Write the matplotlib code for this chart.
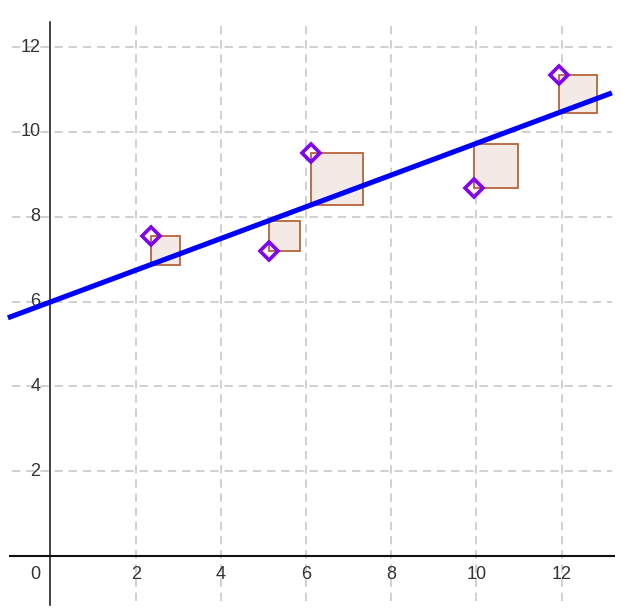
import numpy as np
import matplotlib.pyplot as plt
import matplotlib.patches as mpatches

# data
pts_x = [2.36, 5.13, 6.11, 9.94, 11.94]
pts_y = [7.55, 7.19, 9.50, 8.68, 11.34]
slope = 0.374
intercept = 5.99
x_ticks = [2, 4, 6, 8, 10, 12]
y_ticks = [2, 4, 6, 8, 10, 12]

# drawing window
X0, X1 = -0.90, 13.18
Y0, Y1 = -1.06, 12.58

plt.rcParams['font.family'] = ['Liberation Sans', 'DejaVu Sans']
fig = plt.figure(figsize=(6.23, 6.08), dpi=100)
ax = fig.add_axes([0, 0, 1, 1])
ax.set_xlim(-1.185, 13.44)
ax.set_ylim(-1.226, 13.11)
ax.axis('off')

# dashed grid
grid_kw = dict(color='#c8c8c8', lw=1.2, linestyles=(0, (5, 3.5)), zorder=1)
ax.vlines(x_ticks, Y0, Y1, **grid_kw)
ax.hlines(y_ticks, X0, X1, **grid_kw)

# axes through origin
ax.plot([X0 - 0.05, X1 + 0.05], [0, 0], color='#111111', lw=1.5, zorder=2)
ax.plot([0, 0], [Y0 - 0.1, Y1], color='#111111', lw=1.1, zorder=2)

# tick labels
for t in x_ticks:
    ax.text(t, -0.43, str(t), ha='center', va='center', fontsize=13, color='#333333')
for t in y_ticks:
    ax.text(-0.24, t, str(t), ha='right', va='center', fontsize=13, color='#333333')
ax.text(-0.36, -0.43, '0', ha='center', va='center', fontsize=13, color='#333333')

# diamond fill under squares
ax.plot(pts_x, pts_y, 'D', ms=9.5, mfc='white', mec='none', zorder=2.5)

# residual squares
for px, py in zip(pts_x, pts_y):
    fy = intercept + slope * px
    r = py - fy
    sq = mpatches.Rectangle((px, min(py, fy)), abs(r), abs(r),
                            facecolor='#f3eae6', edgecolor='#b5653a', lw=1.3, zorder=3)
    ax.add_patch(sq)

# fitted line
lx = np.array([-1.0, 13.18])
ax.plot(lx, intercept + slope * lx, color='#0000ff', lw=3.7, zorder=4, solid_capstyle='butt')

# diamond outlines
ax.plot(pts_x, pts_y, 'D', ms=9.5, mfc='none', mec='#7f00ff', mew=2.6, zorder=5)

fig.savefig('out.png', dpi=100, facecolor='white')
